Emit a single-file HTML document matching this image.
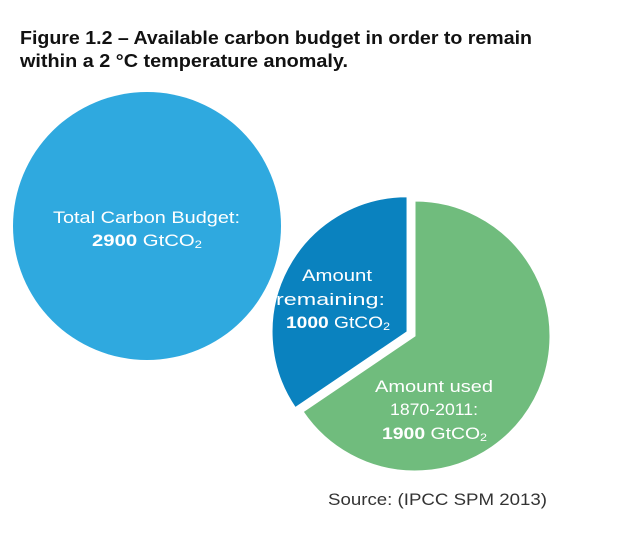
<!DOCTYPE html>
<html><head><meta charset="utf-8"><style>
body{margin:0;background:#fff;}
svg text{font-family:"Liberation Sans",sans-serif;}
</style></head><body>
<svg width="640" height="538" viewBox="0 0 640 538">
<rect width="640" height="538" fill="#fff"/>
<text x="20" y="44" font-size="18" font-weight="bold" fill="#111" textLength="512" lengthAdjust="spacingAndGlyphs">Figure 1.2 – Available carbon budget in order to remain</text>
<text x="20" y="67" font-size="18" font-weight="bold" fill="#111" textLength="328" lengthAdjust="spacingAndGlyphs">within a 2 °C temperature anomaly.</text>
<circle cx="147" cy="226" r="134" fill="#2fa9df"/>
<text x="53" y="223" font-size="17" fill="#fff" textLength="187" lengthAdjust="spacingAndGlyphs">Total Carbon Budget:</text>
<text x="92" y="246" font-size="17" fill="#fff" textLength="110" lengthAdjust="spacingAndGlyphs"><tspan font-weight="bold">2900</tspan> GtCO<tspan font-size="11" dy="2">2</tspan></text>
<g id="pie"></g>
<g font-size="17" fill="#fff">
<text x="302" y="281" textLength="70" lengthAdjust="spacingAndGlyphs">Amount</text>
<text x="276" y="305" textLength="109" lengthAdjust="spacingAndGlyphs">remaining:</text>
<text x="286" y="328" textLength="104" lengthAdjust="spacingAndGlyphs"><tspan font-weight="bold">1000</tspan> GtCO<tspan font-size="11" dy="2">2</tspan></text>
<text x="375" y="392" textLength="118" lengthAdjust="spacingAndGlyphs">Amount used</text>
<text x="390" y="415" textLength="88" lengthAdjust="spacingAndGlyphs">1870-2011:</text>
<text x="382" y="439" textLength="105" lengthAdjust="spacingAndGlyphs"><tspan font-weight="bold">1900</tspan> GtCO<tspan font-size="11" dy="2">2</tspan></text>
</g>
<text x="328" y="505" font-size="17" fill="#333" textLength="219" lengthAdjust="spacingAndGlyphs">Source: (IPCC SPM 2013)</text>
</svg>
<script>
const categories = ["Amount used 1870-2011", "Amount remaining"];
const values = [1900, 1000];
const colors = ["#70bc7d", "#0a82bf"];
const cx = 415, cy = 336, r = 135, explode = [0, 9];
const total = values.reduce((a,b)=>a+b,0);
const g = document.getElementById('pie');
let a0 = -Math.PI/2;
values.forEach((v,i)=>{
  const a1 = a0 + v/total*2*Math.PI;
  const mid = (a0+a1)/2;
  const ox = cx + explode[i]*Math.cos(mid), oy = cy + explode[i]*Math.sin(mid);
  const large = (a1-a0) > Math.PI ? 1 : 0;
  const d = `M${ox},${oy} L${ox+r*Math.cos(a0)},${oy+r*Math.sin(a0)} A${r},${r} 0 ${large} 1 ${ox+r*Math.cos(a1)},${oy+r*Math.sin(a1)} Z`;
  const p = document.createElementNS('http://www.w3.org/2000/svg','path');
  p.setAttribute('d', d);
  p.setAttribute('fill', colors[i]);
  p.setAttribute('stroke', '#fff');
  p.setAttribute('stroke-width', '1');
  
  
  g.appendChild(p);
  a0 = a1;
});
</script>
</body></html>
